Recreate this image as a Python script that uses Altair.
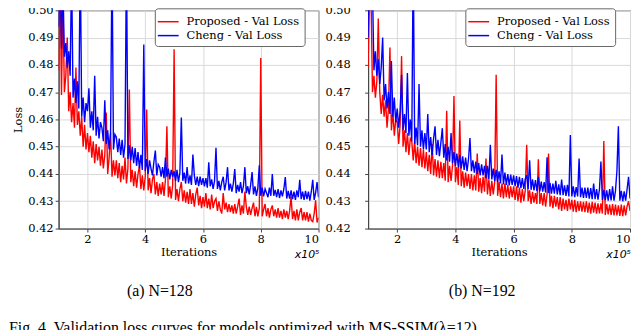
import altair as alt
import pandas as pd

# evaluation points, in units of 1e5 iterations
iterations = [round(1.0 + 0.05 * i, 2) for i in range(181)]

# losses in units of 1e-4
p1_proposed = [
    4780, 5150, 4690, 5050, 4700, 4760, 4900, 4630, 4700, 4590,
    4660, 4570, 4790, 4580, 4630, 4540, 4610, 4500, 4580, 4490,
    4550, 4480, 4540, 4460, 4520, 4440, 4510, 4450, 4500, 4430,
    4490, 4420, 4470, 4625, 4400, 4460, 4550, 4390, 4450, 4395,
    4450, 4385, 4440, 4370, 4430, 4380, 4460, 4365, 4420, 4710,
    4370, 4415, 4355, 4410, 4350, 4400, 4430, 4345, 4395, 4340,
    4390, 4636, 4340, 4385, 4330, 4380, 4400, 4325, 4370, 4320,
    4365, 4325, 4370, 4320, 4380, 4575, 4315, 4355, 4310, 4360,
    4857, 4305, 4345, 4300, 4345, 4370, 4300, 4340, 4295, 4335,
    4290, 4345, 4290, 4330, 4280, 4325, 4350, 4285, 4320, 4275,
    4315, 4280, 4330, 4275, 4310, 4270, 4325, 4275, 4300, 4310,
    4265, 4300, 4270, 4255, 4330, 4270, 4295, 4260, 4290, 4260,
    4285, 4255, 4290, 4255, 4280, 4310, 4250, 4285, 4255, 4336,
    4280, 4250, 4280, 4250, 4275, 4295, 4245, 4280, 4245, 4275,
    4825, 4245, 4270, 4290, 4245, 4275, 4240, 4270, 4285, 4245,
    4270, 4240, 4275, 4240, 4265, 4235, 4270, 4240, 4265, 4235,
    4265, 4318, 4235, 4265, 4230, 4270, 4230, 4260, 4275, 4230,
    4260, 4230, 4260, 4225, 4255, 4230, 4225, 4255, 4304, 4222,
    4240,
]
p1_cheng = [
    4940, 5200, 4860, 5100, 4830, 4880, 4790, 4850, 4760, 5150,
    4680, 4750, 4660, 4740, 4640, 5200, 4610, 4680, 4590, 4660,
    4630, 4714, 4570, 4630, 4560, 4760, 4540, 4610, 4530, 4590,
    4570, 4520, 4670, 4510, 4560, 4490, 4550, 5200, 4490, 4545,
    4535, 4480, 4530, 4470, 4525, 4460, 4510, 5200, 4455, 4505,
    4450, 4500, 4440, 4495, 4430, 4480, 4420, 4470, 4415, 4875,
    4410, 4455, 4400, 4450, 4420, 4395, 4445, 4486, 4395, 4435,
    4425, 4390, 4425, 4385, 4460, 4390, 4420, 4380, 4415, 4390,
    4410, 4375, 4415, 4370, 4405, 4607, 4375, 4405, 4365, 4425,
    4365, 4395, 4360, 4471, 4395, 4360, 4390, 4355, 4390, 4360,
    4385, 4355, 4385, 4350, 4443, 4355, 4380, 4345, 4375, 4496,
    4345, 4375, 4340, 4370, 4390, 4340, 4370, 4425, 4340, 4365,
    4335, 4365, 4418, 4330, 4360, 4335, 4370, 4330, 4355, 4425,
    4330, 4355, 4325, 4360, 4407, 4325, 4355, 4320, 4350, 4432,
    4320, 4350, 4318, 4345, 4330, 4315, 4350, 4320, 4400, 4320,
    4342, 4315, 4345, 4312, 4340, 4318, 4345, 4389, 4310, 4338,
    4310, 4340, 4308, 4335, 4305, 4340, 4315, 4379, 4308, 4335,
    4305, 4338, 4308, 4335, 4302, 4335, 4379, 4305, 4332, 4370,
    4315,
]
p2_proposed = [
    4790, 5100, 5050, 4700, 4760, 4680, 4740, 4970, 4700, 4620,
    4690, 4610, 4670, 4570, 4640, 4864, 4560, 4630, 4540, 4600,
    4590, 4510, 4580, 4832, 4500, 4560, 4480, 4550, 4470, 4530,
    4520, 4450, 4520, 4440, 4500, 4430, 4495, 4425, 4490, 4420,
    4480, 4410, 4470, 4400, 4510, 4395, 4455, 4390, 4450, 4385,
    4445, 4385, 4440, 4375, 4632, 4370, 4430, 4375, 4430, 4686,
    4370, 4425, 4360, 4596, 4355, 4410, 4350, 4405, 4355, 4400,
    4345, 4400, 4340, 4395, 4340, 4475, 4335, 4385, 4330, 4390,
    4335, 4457, 4325, 4380, 4320, 4375, 4325, 4370, 4764, 4320,
    4370, 4315, 4365, 4310, 4365, 4315, 4360, 4310, 4355, 4315,
    4355, 4305, 4355, 4300, 4350, 4295, 4345, 4300, 4340, 4507,
    4300, 4340, 4290, 4335, 4295, 4330, 4290, 4454, 4290, 4330,
    4285, 4330, 4280, 4325, 4475, 4280, 4320, 4275, 4320, 4280,
    4315, 4270, 4315, 4265, 4310, 4270, 4305, 4265, 4310, 4270,
    4305, 4262, 4305, 4260, 4300, 4265, 4300, 4262, 4298, 4260,
    4300, 4258, 4295, 4255, 4298, 4258, 4295, 4255, 4292, 4256,
    4292, 4255, 4521, 4250, 4290, 4252, 4288, 4250, 4290, 4248,
    4288, 4248, 4285, 4246, 4288, 4245, 4285, 4248, 4282, 4300,
    4265,
]
p2_cheng = [
    4900, 5150, 5100, 5080, 4780, 4850, 4760, 4820, 4730, 4790,
    4900, 4670, 4730, 4640, 4700, 4620, 4814, 4610, 4680, 4590,
    4640, 4570, 4630, 4764, 4560, 4620, 4550, 4770, 4540, 4600,
    4520, 5200, 4510, 4570, 4505, 4730, 4500, 4560, 4490, 4550,
    4490, 4620, 4480, 4535, 4470, 4530, 4575, 4470, 4525, 4465,
    4515, 4568, 4460, 4510, 4450, 4500, 4445, 4550, 4440, 4480,
    4430, 4475, 4425, 4470, 4420, 4465, 4415, 4460, 4410, 4455,
    4532, 4410, 4450, 4405, 4445, 4400, 4440, 4395, 4435, 4395,
    4430, 4385, 4430, 4380, 4507, 4380, 4420, 4375, 4415, 4370,
    4410, 4365, 4471, 4362, 4405, 4360, 4400, 4358, 4398, 4360,
    4395, 4355, 4392, 4350, 4390, 4348, 4385, 4345, 4382, 4395,
    4345, 4450, 4342, 4380, 4340, 4378, 4338, 4390, 4336, 4372,
    4335, 4370, 4332, 4461, 4330, 4368, 4328, 4365, 4328, 4375,
    4325, 4362, 4322, 4380, 4322, 4358, 4320, 4360, 4318, 4543,
    4318, 4355, 4315, 4352, 4318, 4457, 4315, 4350, 4312, 4350,
    4312, 4350, 4310, 4348, 4308, 4365, 4308, 4345, 4306, 4344,
    4446, 4305, 4342, 4304, 4340, 4302, 4345, 4303, 4355, 4302,
    4338, 4411, 4575, 4302, 4338, 4300, 4336, 4302, 4345, 4390,
    4310,
]

series_names = ["Proposed - Val Loss", "Cheng - Val Loss"]
series_colors = ["#ff0000", "#0000ff"]
x_ticks = [2, 4, 6, 8, 10]
y_ticks = [0.42, 0.43, 0.44, 0.45, 0.46, 0.47, 0.48, 0.49, 0.50]
captions = ["(a)  N=128", "(b)  N=192"]
fig_caption = "Fig. 4.   Validation loss curves for models optimized with MS-SSIM(\u03bb=12)."
PLOT_H = 220


def make_panel(proposed, cheng, caption, width, first, legend_x, cap_x, ylab_pad):
    df_p = pd.DataFrame({"it": iterations, "loss": [v / 10000 for v in proposed],
                         "series": series_names[0]})
    df_c = pd.DataFrame({"it": iterations, "loss": [v / 10000 for v in cheng],
                         "series": series_names[1]})

    x = alt.X("it:Q",
              scale=alt.Scale(domain=[1, 10], nice=False, zero=False),
              axis=alt.Axis(values=x_ticks, format="d", title="Iterations",
                            tickSize=3.5, labelPadding=1.5, titlePadding=2))
    yaxis_kw = dict(values=y_ticks, format=".2f", tickSize=3.5, labelPadding=ylab_pad)
    if first:
        y = alt.Y("loss:Q", scale=alt.Scale(domain=[0.42, 0.50], nice=False, zero=False),
                  axis=alt.Axis(title="Loss", titlePadding=4, **yaxis_kw))
    else:
        y = alt.Y("loss:Q", scale=alt.Scale(domain=[0.42, 0.50], nice=False, zero=False),
                  axis=alt.Axis(**yaxis_kw), title=None)
    color = alt.Color("series:N",
                      scale=alt.Scale(domain=series_names, range=series_colors),
                      legend=alt.Legend(title=None, orient="none",
                                        legendX=legend_x, legendY=-2))

    red = alt.Chart(df_p).mark_line(strokeWidth=1.4, clip=True).encode(x=x, y=y, color=color)
    blue = alt.Chart(df_c).mark_line(strokeWidth=1.4, clip=True).encode(x=x, y=y, color=color)

    sci = alt.Chart(pd.DataFrame({"t": ["x10\u2075"]})).mark_text(
        font="DejaVu Sans", fontStyle="italic", fontSize=11, align="right",
        baseline="alphabetic", color="#000000"
    ).encode(text="t:N", x=alt.value(width + 1), y=alt.value(250))

    cap = alt.Chart(pd.DataFrame({"t": [caption]})).mark_text(
        font="Liberation Serif", fontSize=16, align="center", baseline="alphabetic",
        color="#000000"
    ).encode(text="t:N", x=alt.value(cap_x), y=alt.value(288))

    layers = [red, blue, sci, cap]
    if first:
        figcap = alt.Chart(pd.DataFrame({"t": [fig_caption]})).mark_text(
            font="Liberation Serif", fontSize=16, align="left", baseline="alphabetic",
            color="#000000"
        ).encode(text="t:N", x=alt.value(-50), y=alt.value(325))
        layers.append(figcap)

    return alt.layer(*layers).properties(width=width, height=PLOT_H)


left = make_panel(p1_proposed, p1_cheng, captions[0], 262, True, 97, 102, 2)
right = make_panel(p2_proposed, p2_cheng, captions[1], 264, False, 98, 115, 14.5)

chart = alt.hconcat(left, right, spacing=50, bounds="flush").resolve_scale(
    color="independent", x="independent", y="independent"
).properties(
    padding={"left": 0, "top": -6, "right": 0, "bottom": 0}
).configure(
    background="white"
).configure_view(
    stroke="#444444", strokeWidth=1
).configure_axis(
    labelFont="DejaVu Serif", labelFontSize=11.5, labelColor="#000000",
    titleFont="DejaVu Serif", titleFontSize=11.5, titleFontWeight="normal",
    titleColor="#000000", domainColor="#444444", tickColor="#444444",
    gridColor="#d9d9d9", gridWidth=1, grid=True
).configure_legend(
    fillColor="white", strokeColor="#666666", cornerRadius=3, padding=5,
    labelFont="DejaVu Serif", labelFontSize=11.5, labelColor="#000000",
    symbolType="M-1.4,0H1.4", symbolStrokeWidth=1.5, symbolSize=225,
    labelOffset=10, rowPadding=0, labelLimit=300
)

chart.save("out.html", embed_options={"renderer": "svg", "actions": False})
